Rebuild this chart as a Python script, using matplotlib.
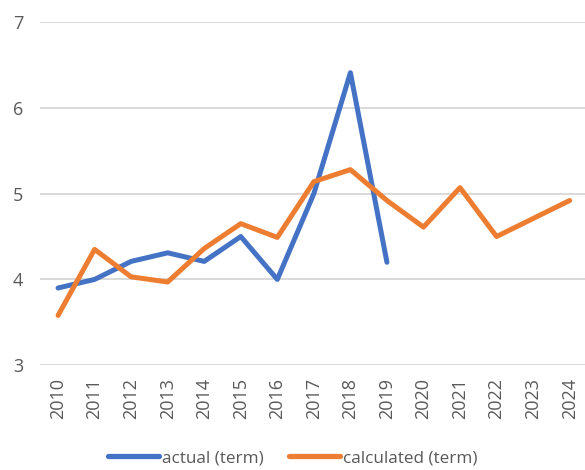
import numpy as np
import matplotlib
matplotlib.use('Agg')
import matplotlib.pyplot as plt

years = ['2010', '2011', '2012', '2013', '2014', '2015', '2016', '2017',
         '2018', '2019', '2020', '2021', '2022', '2023', '2024']
actual = [3.90, 4.00, 4.21, 4.31, 4.21, 4.50, 4.00, 5.00, 6.41, 4.20]
calculated = [3.58, 4.35, 4.03, 3.97, 4.36, 4.65, 4.49, 5.14, 5.28, 4.92,
              4.61, 5.07, 4.50, 4.71, 4.92]

grey = '#595959'
plt.rcParams['font.family'] = ['Open Sans', 'DejaVu Sans']

fig = plt.figure(figsize=(5.85, 4.7), dpi=100)
ax = fig.add_axes([0.068, 0.223, 0.937, 0.730])

x = np.arange(len(years))
ax.plot(x[:len(actual)], actual, color='#4472C4', lw=3.6,
        solid_capstyle='round', solid_joinstyle='round', label='actual (term)')
ax.plot(x, calculated, color='#ED7D31', lw=3.6,
        solid_capstyle='round', solid_joinstyle='round', label='calculated (term)')

ax.set_xlim(-0.5, len(years) - 0.5)
ax.set_ylim(3, 7)
ax.set_yticks([3, 4, 5, 6, 7])
ax.set_xticks(x)
ax.set_xticklabels(years, rotation=90)
ax.tick_params(axis='both', length=0, labelsize=13, labelcolor=grey)
ax.tick_params(axis='y', pad=12)
ax.tick_params(axis='x', pad=9)
ax.grid(axis='y', color='#D9D9D9', lw=1.4)
ax.set_axisbelow(True)
for s in ax.spines.values():
    s.set_visible(False)

leg = fig.legend(loc='lower center', bbox_to_anchor=(0.5, -0.025), ncol=2,
                 frameon=False, fontsize=12.3, handlelength=3.0,
                 handletextpad=0.15, columnspacing=1.5)
for t in leg.get_texts():
    t.set_color(grey)
for h in leg.get_lines():
    h.set_linewidth(3.8)

fig.savefig('out.png', dpi=100)
